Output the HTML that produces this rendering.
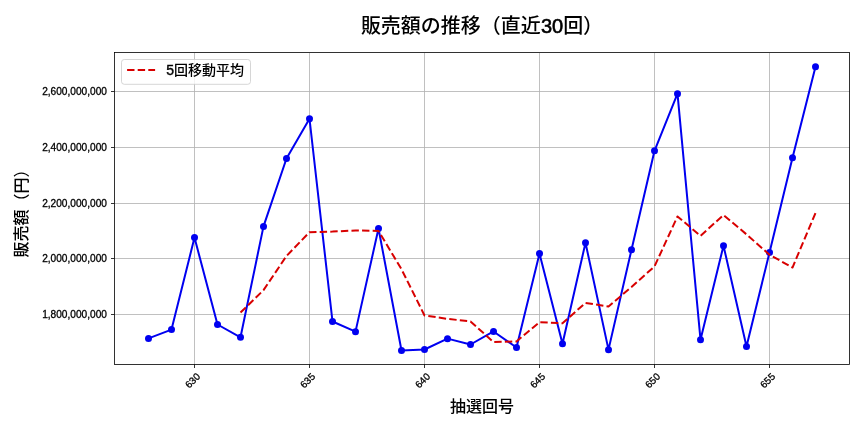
<!DOCTYPE html>
<html lang="ja"><head><meta charset="utf-8"><title>販売額の推移</title>
<style>html,body{margin:0;padding:0;background:#fff;}svg{display:block;}text{font-family:"Liberation Sans","Noto Sans CJK JP",sans-serif;fill:#000;font-weight:500;}</style></head><body>
<svg width="864" height="432" viewBox="0 0 864 432">
<rect x="0" y="0" width="864" height="432" fill="#ffffff"/>
<g stroke="#b0b0b0" stroke-width="0.8" fill="none" shape-rendering="crispEdges">
<line x1="194.5" y1="52.5" x2="194.5" y2="364.5"/>
<line x1="309.5" y1="52.5" x2="309.5" y2="364.5"/>
<line x1="424.5" y1="52.5" x2="424.5" y2="364.5"/>
<line x1="539.5" y1="52.5" x2="539.5" y2="364.5"/>
<line x1="654.5" y1="52.5" x2="654.5" y2="364.5"/>
<line x1="769.5" y1="52.5" x2="769.5" y2="364.5"/>
<line x1="114.5" y1="91.5" x2="849.5" y2="91.5"/>
<line x1="114.5" y1="147.5" x2="849.5" y2="147.5"/>
<line x1="114.5" y1="203.5" x2="849.5" y2="203.5"/>
<line x1="114.5" y1="258.5" x2="849.5" y2="258.5"/>
<line x1="114.5" y1="314.5" x2="849.5" y2="314.5"/>
</g>
<g stroke="#000" stroke-width="0.8" fill="none">
<line x1="194.5" y1="364.5" x2="194.5" y2="368.0"/>
<line x1="309.5" y1="364.5" x2="309.5" y2="368.0"/>
<line x1="424.5" y1="364.5" x2="424.5" y2="368.0"/>
<line x1="539.5" y1="364.5" x2="539.5" y2="368.0"/>
<line x1="654.5" y1="364.5" x2="654.5" y2="368.0"/>
<line x1="769.5" y1="364.5" x2="769.5" y2="368.0"/>
<line x1="111.0" y1="91.5" x2="114.5" y2="91.5"/>
<line x1="111.0" y1="147.5" x2="114.5" y2="147.5"/>
<line x1="111.0" y1="203.5" x2="114.5" y2="203.5"/>
<line x1="111.0" y1="258.5" x2="114.5" y2="258.5"/>
<line x1="111.0" y1="314.5" x2="114.5" y2="314.5"/>
</g>
<polyline points="148.50,338.40 171.50,329.60 194.50,237.60 217.50,324.50 240.50,337.30 263.50,226.40 286.50,158.55 309.50,118.75 332.50,321.50 355.50,331.65 378.50,228.50 401.50,350.50 424.50,349.50 447.50,338.65 470.50,344.50 493.50,331.45 516.50,347.50 539.50,253.60 562.50,343.70 585.50,242.80 608.50,349.65 631.50,249.70 654.50,150.80 677.50,93.70 700.50,339.70 723.50,245.70 746.50,346.50 769.50,252.50 792.50,157.80 815.50,66.70" fill="none" stroke="#0000f0" stroke-width="2" stroke-linejoin="round" stroke-linecap="butt"/>
<g fill="#0000f0">
<circle cx="148.50" cy="338.40" r="3.5"/>
<circle cx="171.50" cy="329.60" r="3.5"/>
<circle cx="194.50" cy="237.60" r="3.5"/>
<circle cx="217.50" cy="324.50" r="3.5"/>
<circle cx="240.50" cy="337.30" r="3.5"/>
<circle cx="263.50" cy="226.40" r="3.5"/>
<circle cx="286.50" cy="158.55" r="3.5"/>
<circle cx="309.50" cy="118.75" r="3.5"/>
<circle cx="332.50" cy="321.50" r="3.5"/>
<circle cx="355.50" cy="331.65" r="3.5"/>
<circle cx="378.50" cy="228.50" r="3.5"/>
<circle cx="401.50" cy="350.50" r="3.5"/>
<circle cx="424.50" cy="349.50" r="3.5"/>
<circle cx="447.50" cy="338.65" r="3.5"/>
<circle cx="470.50" cy="344.50" r="3.5"/>
<circle cx="493.50" cy="331.45" r="3.5"/>
<circle cx="516.50" cy="347.50" r="3.5"/>
<circle cx="539.50" cy="253.60" r="3.5"/>
<circle cx="562.50" cy="343.70" r="3.5"/>
<circle cx="585.50" cy="242.80" r="3.5"/>
<circle cx="608.50" cy="349.65" r="3.5"/>
<circle cx="631.50" cy="249.70" r="3.5"/>
<circle cx="654.50" cy="150.80" r="3.5"/>
<circle cx="677.50" cy="93.70" r="3.5"/>
<circle cx="700.50" cy="339.70" r="3.5"/>
<circle cx="723.50" cy="245.70" r="3.5"/>
<circle cx="746.50" cy="346.50" r="3.5"/>
<circle cx="769.50" cy="252.50" r="3.5"/>
<circle cx="792.50" cy="157.80" r="3.5"/>
<circle cx="815.50" cy="66.70" r="3.5"/>
</g>
<polyline points="240.50,312.58 263.50,290.18 286.50,255.97 309.50,232.20 332.50,231.60 355.50,230.47 378.50,230.89 401.50,269.28 424.50,315.43 447.50,318.86 470.50,321.43 493.50,342.02 516.50,341.42 539.50,322.24 562.50,323.25 585.50,302.91 608.50,306.55 631.50,286.99 654.50,266.43 677.50,216.43 700.50,235.81 723.50,215.02 746.50,234.38 769.50,254.72 792.50,267.54 815.50,212.94" fill="none" stroke="#d80000" stroke-width="2" stroke-dasharray="7.4 3.2" stroke-linejoin="round"/>
<rect x="114.5" y="52.5" width="735.0" height="312.0" fill="none" stroke="#000" stroke-width="0.8"/>
<rect x="121.5" y="59.5" width="129" height="24.8" rx="2.8" ry="2.8" fill="#ffffff" fill-opacity="0.8" stroke="#cccccc" stroke-opacity="0.8" stroke-width="1"/>
<line x1="127.1" y1="70" x2="155.1" y2="70" stroke="#d80000" stroke-width="2" stroke-dasharray="7.4 3.2"/>
<text x="166.3" y="75" font-size="14"><tspan stroke="#000" stroke-width="0.4">5</tspan>回移動平均</text>
<text x="106.9" y="95.1" font-size="10.15" text-anchor="end" stroke="#000" stroke-width="0.3">2,600,000,000</text>
<text x="106.9" y="151.1" font-size="10.15" text-anchor="end" stroke="#000" stroke-width="0.3">2,400,000,000</text>
<text x="106.9" y="207.1" font-size="10.15" text-anchor="end" stroke="#000" stroke-width="0.3">2,200,000,000</text>
<text x="106.9" y="262.1" font-size="10.15" text-anchor="end" stroke="#000" stroke-width="0.3">2,000,000,000</text>
<text x="106.9" y="318.1" font-size="10.15" text-anchor="end" stroke="#000" stroke-width="0.3">1,800,000,000</text>
<text transform="translate(192.5,380.5) rotate(-45)" font-size="9.9" text-anchor="middle" dy="3.6" stroke="#000" stroke-width="0.3">630</text>
<text transform="translate(307.5,380.5) rotate(-45)" font-size="9.9" text-anchor="middle" dy="3.6" stroke="#000" stroke-width="0.3">635</text>
<text transform="translate(422.5,380.5) rotate(-45)" font-size="9.9" text-anchor="middle" dy="3.6" stroke="#000" stroke-width="0.3">640</text>
<text transform="translate(537.5,380.5) rotate(-45)" font-size="9.9" text-anchor="middle" dy="3.6" stroke="#000" stroke-width="0.3">645</text>
<text transform="translate(652.5,380.5) rotate(-45)" font-size="9.9" text-anchor="middle" dy="3.6" stroke="#000" stroke-width="0.3">650</text>
<text transform="translate(767.5,380.5) rotate(-45)" font-size="9.9" text-anchor="middle" dy="3.6" stroke="#000" stroke-width="0.3">655</text>
<text x="482" y="32.8" font-size="20" text-anchor="middle">販売額の推移（直近<tspan stroke="#000" stroke-width="0.6">30</tspan>回）</text>
<text x="482" y="412.1" font-size="16" text-anchor="middle">抽選回号</text>
<text transform="translate(26.7,209.5) rotate(-90)" font-size="16" text-anchor="middle">販売額（円）</text>
</svg></body></html>
